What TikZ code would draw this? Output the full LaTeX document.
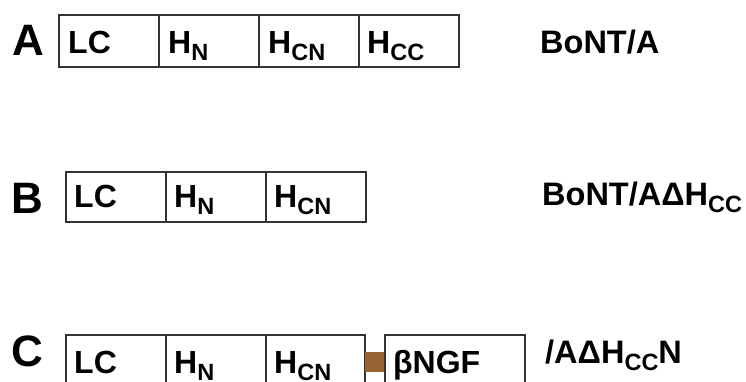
\documentclass[tikz,border=0pt]{standalone}
\usepackage{fontspec}
\setmainfont{Liberation Sans}
\definecolor{linker}{RGB}{154,99,52}
\newcommand{\sbs}[1]{\raisebox{-7pt}{\fontsize{23.5}{23.5}\selectfont #1}}
\tikzset{
  cell/.style={draw=black!80, line width=1.1pt},
  celltext/.style={anchor=base west, inner sep=0pt, font=\bfseries\fontsize{32}{32}\selectfont},
  rowlabel/.style={anchor=base west, inner sep=0pt, font=\bfseries\fontsize{44}{44}\selectfont},
  protname/.style={anchor=base west, inner sep=0pt, font=\bfseries\fontsize{32.5}{32.5}\selectfont},
}
\begin{document}
\begin{tikzpicture}[x=1pt,y=-1pt]
\useasboundingbox (0,0) rectangle (746,381);
\clip (0,0) rectangle (746,381);
% Row A
\node[rowlabel] (la) at (12,55) {A};
\draw[cell] (59,15) rectangle (159,67) (159,15) rectangle (259,67) (259,15) rectangle (359,67) (359,15) rectangle (459,67);
\node[celltext] (a1) at (68,53) {LC};
\node[celltext] (a2) at (168,53) {H\sbs{N}};
\node[celltext] (a3) at (268,53) {H\sbs{CN}};
\node[celltext] (a4) at (367,53) {H\sbs{CC}};
\node[protname] (na) at (540,53) {BoNT/A};
% Row B
\node[rowlabel] (lb) at (11,213) {B};
\draw[cell] (66,172) rectangle (166,222) (166,172) rectangle (266,222) (266,172) rectangle (366,222);
\node[celltext] (b1) at (74,207) {LC};
\node[celltext] (b2) at (174,207) {H\sbs{N}};
\node[celltext] (b3) at (274,207) {H\sbs{CN}};
\node[protname] (nb) at (542,205) {BoNT/AΔH\sbs{CC}};
% Row C
\node[rowlabel] (lc) at (11,366) {C};
\draw[cell] (66,335) rectangle (166,400) (166,335) rectangle (266,400) (266,335) rectangle (365,400);
\fill[linker] (365,352) rectangle (385,372);
\draw[cell] (385,335) rectangle (525,400);
\node[celltext] (c1) at (74,373) {LC};
\node[celltext] (c2) at (174,373) {H\sbs{N}};
\node[celltext] (c3) at (274,373) {H\sbs{CN}};
\node[celltext] (c4) at (393,373) {βNGF};
\node[protname] (nc) at (545,363) {/AΔH\sbs{CC}N};
\end{tikzpicture}
\end{document}
